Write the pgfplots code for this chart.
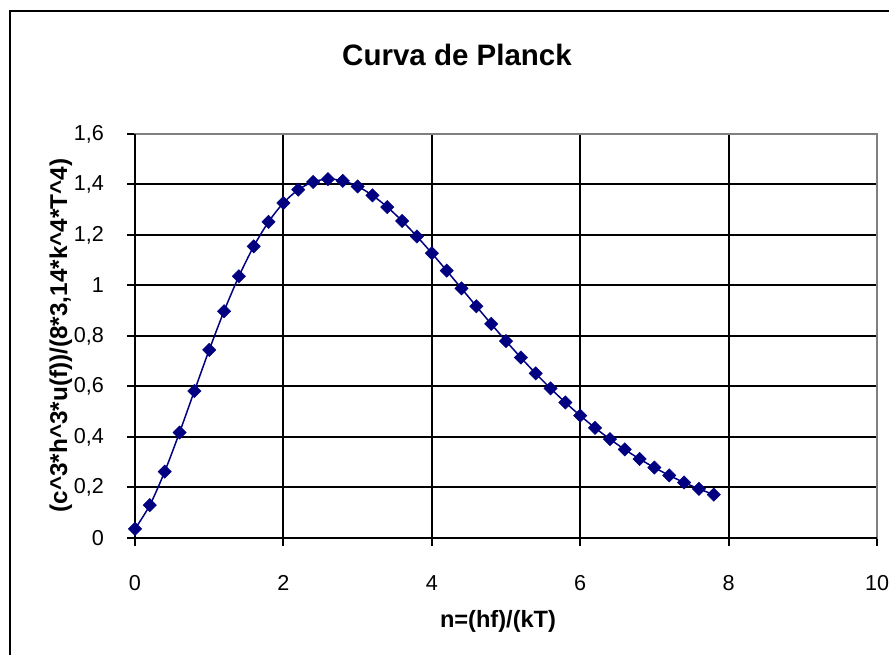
\documentclass[border=0pt]{standalone}
\usepackage{fontspec}
\setmainfont{Liberation Sans}
\usepackage{pgfplots}
\pgfplotsset{compat=1.18}
\definecolor{xlnavy}{RGB}{0,0,128}
\definecolor{xlgrey}{RGB}{128,128,128}
\begin{document}
\begin{tikzpicture}[x=1bp,y=1bp]
\path[use as bounding box] (0,0) rectangle (889,655);
\draw[line width=2bp] (10,-5) -- (10,644) -- (900,644);
\node[anchor=base,font=\fontsize{29.5bp}{32bp}\selectfont\bfseries] at (457,589) {Curva de Planck};
\node[anchor=base,font=\fontsize{23.6bp}{26bp}\selectfont\bfseries] at (498,27) {n=(hf)/(kT)};
\node[anchor=base,rotate=90,font=\fontsize{24.3bp}{26bp}\selectfont\bfseries] at (67,319.5) {(c\^{}3*h\^{}3*u(f))/(8*3,14*k\^{}4*T\^{}4)};
\begin{axis}[
  at={(135bp,117bp)}, anchor=south west,
  scale only axis, width=742bp, height=404bp,
  xmin=0, xmax=10, ymin=0, ymax=1.6,
  xtick={0,2,4,6,8,10},
  ytick={0,0.2,0.4,0.6,0.8,1,1.2,1.4,1.6},
  xticklabels={0,2,4,6,8,10},
  yticklabels={0,{0,2},{0,4},{0,6},{0,8},1,{1,2},{1,4},{1,6}},
  grid=major,
  major grid style={black, line width=2bp},
  axis line style={xlgrey, line width=2bp},
  tick align=outside,
  major tick length=8bp,
  tick style={black, line width=2bp},
  xtick pos=bottom, ytick pos=left,
  tick label style={font=\fontsize{21.6bp}{24bp}\selectfont},
  xticklabel style={anchor=base, inner sep=0pt, yshift=-45bp},
  yticklabel style={anchor=east, inner sep=0pt, xshift=-23bp},
  clip=false,
]
\draw[black, line width=2bp] (rel axis cs:0,1) -- (rel axis cs:0,0) -- (rel axis cs:1,0);
\addplot[color=xlnavy, line width=1.5bp, smooth, mark=square*, mark size=4.7bp,
  mark options={rotate=45, fill=xlnavy, draw=xlnavy, line width=0.5bp}] coordinates {
(0.0,0.03613) (0.2,0.13013) (0.4,0.26273) (0.6,0.41777) (0.8,0.58198)
(1.0,0.74479) (1.2,0.89814) (1.4,1.03617) (1.6,1.15493) (1.8,1.25214)
(2.0,1.32685) (2.2,1.37920) (2.4,1.41017) (2.6,1.42134) (2.8,1.41469)
(3.0,1.39246) (3.2,1.35699) (3.4,1.31063) (3.6,1.25561) (3.8,1.19407)
(4.0,1.12790) (4.2,1.05883) (4.4,0.98834) (4.6,0.91770) (4.8,0.84796)
(5.0,0.77998) (5.2,0.71443) (5.4,0.65181) (5.6,0.59251) (5.8,0.53674)
(6.0,0.48465) (6.2,0.43629) (6.4,0.39163) (6.6,0.35060) (6.8,0.31306)
(7.0,0.27887) (7.2,0.24785) (7.4,0.21980) (7.6,0.19452) (7.8,0.17182)
};
\end{axis}
\end{tikzpicture}
\end{document}
